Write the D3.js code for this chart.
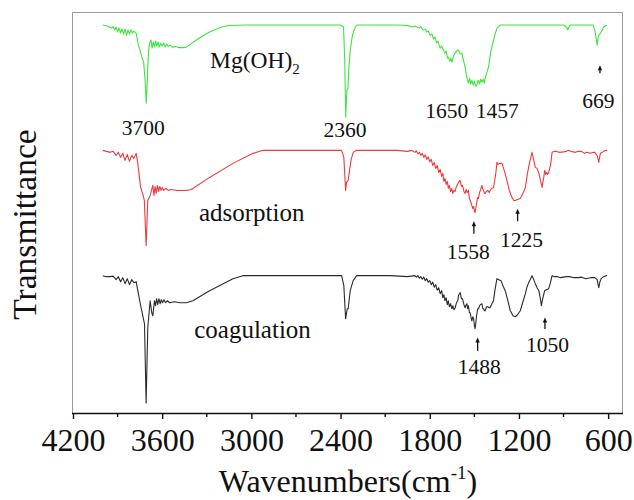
<!DOCTYPE html>
<html>
<head>
<meta charset="utf-8">
<script src="https://cdn.jsdelivr.net/npm/d3@7"></script>
<style>
  html, body { margin: 0; padding: 0; background: #fff; }
  svg { display: block; }
  text { font-family: "Liberation Serif", "Times New Roman", serif; fill: #111; }
</style>
</head>
<body>
<svg id="chart" width="634" height="500"></svg>
<script>
// ---------------- DATA (wavenumber cm^-1, transmittance a.u.) ----------------
const xTicks = [4200, 3600, 3000, 2400, 1800, 1200, 600];
const xMinorTicks = [3900, 3300, 2700, 2100, 1500, 900];

const mgOH2 = [
 [4000,387],[3970,386],[3940,384],[3930,385.5],[3920,382],[3910,385],[3900,380],[3890,384],[3880,379],
 [3870,383],[3860,378],[3850,383],[3840,377],[3830,382],[3820,378],[3810,382],[3800,379],[3790,381],
 [3775,379],[3760,367],[3745,360],[3735,354],[3725,350],[3715,332],[3707,309],[3700,332],[3695,352],
 [3690,364],[3682,370],[3675,372],[3668,364],[3660,370],[3652,365],[3644,371],[3636,366],[3628,370],
 [3620,365],[3610,369],[3600,366],[3590,369],[3580,365],[3570,368],[3560,365.5],[3545,367],[3530,365],
 [3510,365.5],[3490,364.5],[3460,364.5],[3438,365],[3400,369],[3350,374],[3281,380],[3200,385],
 [3146,386.5],[3050,387],[2400,387],[2380,385],[2372,352],[2368,317],[2365,295],[2361,312],[2357,322],
 [2350,324],[2345,342],[2335,362],[2320,377],[2300,385],[2290,387],[2100,387],[2022,387],[1950,386.5],
 [1920,385],[1900,386],[1887,385],[1870,384],[1860,385.5],[1850,383],[1843,382],[1830,383],[1820,380],
 [1810,381],[1798,377],[1785,378],[1775,373],[1765,375],[1753,369],[1745,371],[1730,364],[1720,366],
 [1708,362],[1700,359],[1690,361],[1680,354],[1674,355],[1665,351],[1658,354],[1651,350],[1640,356],
 [1629,359],[1615,362],[1607,362],[1595,358],[1584,359],[1575,353],[1562,345],[1555,338],[1548,333],
 [1540,329],[1532,334],[1525,328],[1517,332],[1508,327],[1500,331],[1490,326],[1483,327],[1475,332],
 [1465,328],[1458,333],[1449,330],[1440,333],[1433,329],[1427,334],[1415,340],[1405,345],[1390,360],
 [1371,372],[1360,378],[1348,384],[1326,387],[900,387],[880,385],[872,382],[865,385],[855,387],
 [700,387],[687,380],[674,367],[668,374],[663,377],[655,378],[647,380],[630,385],[607,387]
];

const adsorption = [
 [4000,262],[3975,261],[3950,260],[3930,261],[3910,257],[3895,260],[3880,255],[3865,259],[3850,252],
 [3835,258],[3820,251],[3805,257],[3790,254],[3775,259],[3764,249],[3745,225],[3730,218],[3720,212],
 [3708,167],[3697,212],[3681,217],[3663,227],[3655,217],[3648,226],[3640,219],[3632,227],[3624,221],
 [3616,226],[3608,222],[3600,225],[3590,222],[3575,224],[3560,222],[3540,223],[3500,222],[3438,222],
 [3404,223],[3281,235],[3124,249],[2989,259],[2922,262],[2393,262],[2378,255],[2366,222],[2360,230],
 [2349,232],[2330,252],[2315,260],[2292,262],[2022,262],[1950,261],[1920,262],[1900,260],[1890,261.5],
 [1880,258.5],[1870,260],[1860,257],[1850,259],[1840,255],[1830,257.5],[1820,253],[1810,255.5],
 [1800,250.5],[1790,253],[1780,247],[1770,250],[1760,244],[1750,247],[1740,240],[1730,243],[1720,236],
 [1712,239],[1705,231],[1698,234],[1690,228],[1682,231],[1675,224],[1668,227],[1660,221],[1652,224],
 [1645,219],[1638,222],[1630,221],[1620,226],[1607,230],[1595,232],
 [1587,226],[1580,227],[1570,221],[1562,219],[1555,223],[1548,220],[1540,222],[1533,214],[1525,211],
 [1517,207],[1510,204],[1505,206],[1500,202],[1495,200],[1488,206],[1485,209],[1478,215],[1472,214],
 [1465,220],[1460,222],[1449,227],[1443,223],[1438,222],[1432,219],[1427,219],[1420,221],[1410,222],
 [1400,220],[1394,222],[1385,224],[1371,225],[1362,233],[1355,240],[1348,250],[1340,248],[1330,249],
 [1314,249],[1295,240],[1281,232],[1265,222],[1247,215],[1235,212],[1225,212],[1210,213],[1191,214],
 [1170,220],[1157,225],[1145,237],[1135,245],[1125,252],[1112,260],[1100,252],[1090,245],[1078,244],
 [1066,239],[1055,232],[1044,225],[1038,231],[1032,236],[1027,242],[1020,238],[1015,240],[1008,238],
 [1000,240],[988,247],[977,260],[960,261],[950,261],[930,260],[900,260.5],[880,261],[870,262],[850,261],
 [820,260],[800,261],[780,261],[760,259],[740,260],[720,259],[700,260],[690,260],[680,258],[674,257],
 [663,250],[655,257],[652,259],[640,260],[630,261],[615,262],[607,262]
];

const coagulation = [
 [4000,137],[3975,136],[3950,136],[3930,136.5],[3910,133],[3895,136],[3880,131],[3865,135],[3850,129],
 [3835,134],[3820,128],[3805,133],[3790,130],[3775,131],[3764,122],[3742,105],[3719,89],[3708,10],
 [3697,85],[3681,112],[3670,100],[3663,97],[3652,112],[3645,107],[3638,114],[3630,108],[3622,114],
 [3614,109],[3606,113],[3598,110],[3588,113],[3578,110],[3565,112],[3550,110],[3520,111],[3480,110],
 [3438,110],[3394,112],[3281,122],[3124,134],[3057,137],[2393,137],[2378,127],[2366,94],[2355,104],
 [2349,104],[2335,122],[2315,132],[2292,137],[2067,137],[1950,136],[1900,137],[1890,135.5],[1880,137],
 [1870,134.5],[1860,136],[1850,133.5],[1840,135.5],[1830,132],[1820,134],[1810,130.5],[1800,132],
 [1790,128],[1780,130.5],[1770,125.5],[1760,128],[1750,122.5],[1740,125],[1730,119],[1720,122],
 [1712,115],[1705,118],[1698,112],[1690,115],[1682,108],[1675,112],[1668,106],[1660,109],[1652,104],
 [1645,107],[1637,103],[1629,105],[1620,110],[1612,112],[1605,118],[1595,120],[1587,114],[1580,114],
 [1570,108],[1562,105],[1555,108],[1550,109],[1545,104],[1540,107],[1533,100],[1528,100],[1522,95],
 [1517,92],[1510,96],[1505,94],[1500,88],[1495,84],[1490,90],[1485,97],[1478,104],[1472,104],
 [1465,107],[1460,108],[1449,109],[1443,104],[1438,104],[1432,102],[1427,102],[1418,106],[1410,106],
 [1400,105],[1394,105],[1382,109],[1371,112],[1362,122],[1355,128],[1348,134],[1335,133],[1321,132],
 [1305,126],[1292,122],[1275,112],[1258,102],[1240,97],[1225,96],[1210,98],[1191,102],[1175,110],
 [1157,119],[1145,126],[1135,130],[1125,133],[1112,137],[1100,133],[1090,129],[1078,125],[1066,122],
 [1057,115],[1049,107],[1040,114],[1035,117],[1027,122],[1015,123],[1000,124],[988,130],[977,137],
 [960,136],[940,136],[920,135],[900,135.5],[880,136],[860,136],[830,135],[800,135],[780,135.5],
 [750,134],[720,135],[700,135],[690,135],[674,133],[663,125],[655,131],[647,134],[630,136],[615,137],[607,137]
];

// Peak labels: text, wavenumber (centre), transmittance (baseline)
const peakText = ["3700", "2360", "1650", "1457", "669", "1558", "1225", "1488", "1050"];
const peakWN   = [3727, 2370, 1686, 1346, 666, 1541, 1182, 1467, 1008];
const peakT    = [277, 275, 294.7, 294.7, 304.7, 153.7, 165.3, 39.3, 61.3];

// Arrows: wavenumber, tail transmittance, tip transmittance
const arrowWN   = [655, 1503, 1209, 1478, 1025];
const arrowTail = [339, 178.7, 191.3, 62, 83.7];
const arrowTip  = [347, 191.3, 203.7, 75.3, 95.3];

// Sample names
const sampleNames = ["adsorption", "coagulation"];
const sampleWN    = [2998, 2992];
const sampleT     = [191.3, 75.3];

// ---------------- CHART ----------------
(function () {
const svg = d3.select("#chart");
const W = 634, H = 500;
const mLeft = 73, mRight = 623, mTop = 12, mBottom = 413;

svg.append("rect").attr("width", W).attr("height", H).attr("fill", "#fff");

const x = d3.scaleLinear().domain([4200, 500]).range([mLeft, mRight]);
const y = d3.scaleLinear().domain([0, 400]).range([mBottom, mTop]);

// frame (top, right, left in grey)
svg.append("path")
  .attr("d", `M${mLeft - 0.5},${mBottom} L${mLeft - 0.5},${mTop + 0.5} L${mRight - 0.5},${mTop + 0.5} L${mRight - 0.5},${mBottom}`)
  .attr("fill", "none").attr("stroke", "#9a9a9a").attr("stroke-width", 1);

// bottom axis
const axisG = svg.append("g").attr("transform", `translate(0,${mBottom})`);
axisG.call(d3.axisBottom(x).tickValues(xTicks).tickSize(6).tickSizeOuter(0).tickFormat(d3.format("d")));
axisG.select(".domain").attr("stroke", "#111").attr("stroke-width", 1.6)
  .attr("d", `M${mLeft - 1},0.5H${mRight}`);
axisG.selectAll(".tick line").attr("stroke", "#111").attr("stroke-width", 1.4);
axisG.selectAll(".tick text")
  .attr("font-family", "'Liberation Serif', 'Times New Roman', serif")
  .attr("font-size", 32).attr("fill", "#111").attr("dy", "0").attr("y", 38);
// minor ticks
axisG.selectAll(".minor").data(xMinorTicks).enter().append("line")
  .attr("class", "minor")
  .attr("x1", d => x(d)).attr("x2", d => x(d))
  .attr("y1", 0).attr("y2", 4)
  .attr("stroke", "#111").attr("stroke-width", 1.4);

// spectra
const line = d3.line().x(d => x(d[0])).y(d => y(d[1]));
const series = [
  {data: mgOH2, color: "#3fe43f"},
  {data: adsorption, color: "#f03a3a"},
  {data: coagulation, color: "#2a2a2a"}
];
svg.selectAll(".spec").data(series).enter().append("path")
  .attr("class", "spec")
  .attr("d", d => line(d.data))
  .attr("fill", "none")
  .attr("stroke", d => d.color)
  .attr("stroke-width", 1.1)
  .attr("stroke-linejoin", "round");

// peak labels
svg.selectAll(".peak").data(peakText).enter().append("text")
  .attr("class", "peak")
  .attr("x", (d, i) => x(peakWN[i]))
  .attr("y", (d, i) => y(peakT[i]))
  .attr("text-anchor", "middle")
  .attr("font-size", 21.5)
  .text(d => d);

// arrows
svg.selectAll(".arrow").data(arrowWN).enter().append("g")
  .attr("class", "arrow")
  .each(function(d, i) {
    const g = d3.select(this);
    const ax = x(d), y0 = y(arrowTail[i]), y1 = y(arrowTip[i]);
    g.append("line").attr("x1", ax).attr("x2", ax).attr("y1", y0).attr("y2", y1 + 3)
      .attr("stroke", "#111").attr("stroke-width", 1.3);
    g.append("path").attr("d", `M${ax},${y1} L${ax - 2.2},${y1 + 5} L${ax + 2.2},${y1 + 5} Z`)
      .attr("fill", "#111");
  });

// sample names
const mg = svg.append("text")
  .attr("x", x(3278)).attr("y", y(344))
  .attr("font-size", 23.5);
mg.append("tspan").text("Mg(OH)");
mg.append("tspan").attr("font-size", 15).attr("dy", 6).text("2");

svg.selectAll(".sname").data(sampleNames).enter().append("text")
  .attr("class", "sname")
  .attr("x", (d, i) => x(sampleWN[i]))
  .attr("y", (d, i) => y(sampleT[i]))
  .attr("text-anchor", "middle")
  .attr("font-size", 25)
  .text(d => d);

// axis titles
svg.append("text")
  .attr("transform", `translate(36,${(mTop + mBottom) / 2 + 12}) rotate(-90)`)
  .attr("text-anchor", "middle")
  .attr("font-size", 33.5)
  .text("Transmittance");

const xt = svg.append("text")
  .attr("x", (mLeft + mRight) / 2)
  .attr("y", 492)
  .attr("text-anchor", "middle")
  .attr("font-size", 32);
xt.append("tspan").text("Wavenumbers(cm");
xt.append("tspan").attr("font-size", 19).attr("dy", -13).text("-1");
xt.append("tspan").attr("dy", 13).text(")");
})();
</script>
</body>
</html>
